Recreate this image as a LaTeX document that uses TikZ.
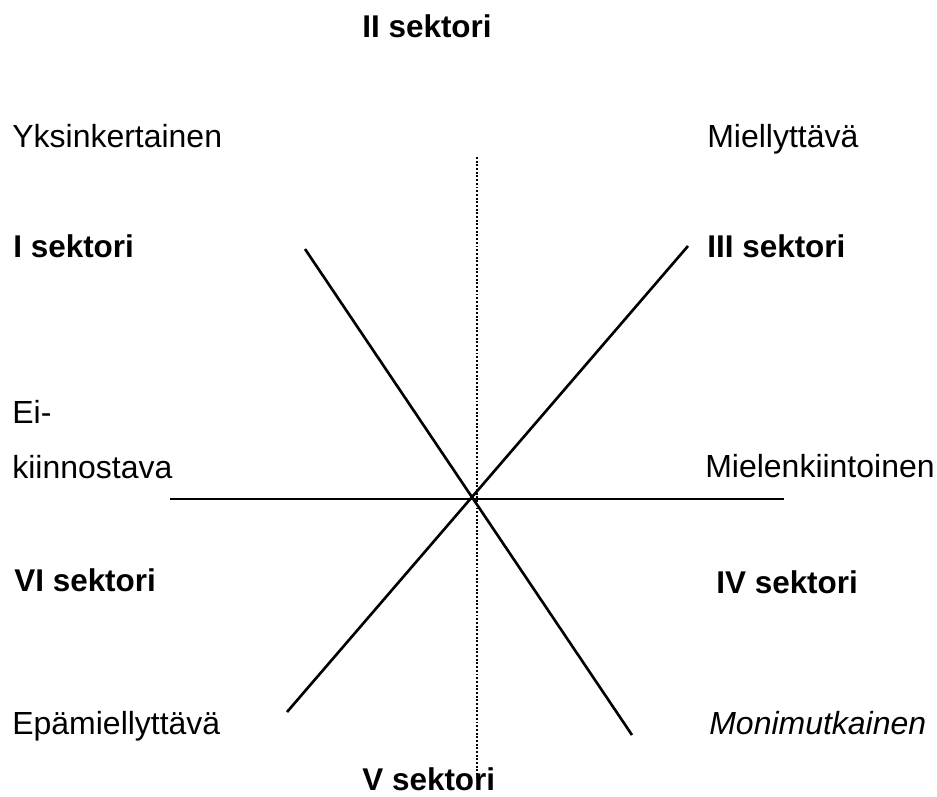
\documentclass[tikz,border=0pt]{standalone}
\usepackage{fontspec}
\setmainfont{Liberation Sans}
\usepackage{tikz}
\usetikzlibrary{positioning}
\tikzset{
  axis/.style={line width=1.5pt, black},
  midaxis/.style={line width=1.1pt, densely dotted, black},
  pole/.style={anchor=base west, inner sep=0pt, font=\fontsize{18.2}{22}\selectfont},
  sector/.style={pole, font=\fontsize{17.9}{22}\selectfont\bfseries}
}

\begin{document}
\begin{tikzpicture}[x=0.02cm, y=-0.02cm]
  \useasboundingbox (0,0) rectangle (937,796);

  % Axis end points
  \coordinate (hL) at (170,499);
  \coordinate (hR) at (784,499);
  \coordinate (vT) at (477,157);
  \coordinate (vB) at (477,778);
  \coordinate (aT) at (305,249);
  \coordinate (aB) at (632,735);
  \coordinate (bB) at (287,712);
  \coordinate (bT) at (688,246);

  % Axes
  \draw[axis] (hL) -- (hR);
  \draw[axis] (aT) -- (aB);
  \draw[axis] (bB) -- (bT);
  \draw[midaxis] (vT) -- (vB);

  % Sectors
  \node[sector] (s2) at (362,37) {II sektori};
  \node[sector] (s1) at (13,257) {I sektori};
  \node[sector] (s3) at (707,257) {III sektori};
  \node[sector] (s6) at (14,591) {VI sektori};
  \node[sector] (s4) at (716,593) {IV sektori};
  \node[sector] (s5) at (362,790) {V sektori};

  % Poles
  \node[pole] (yks) at (12,147) {Yksinkertainen};
  \node[pole] (mie) at (707,147) {Miellyttävä};
  \node[pole] (ei) at (12,423) {Ei-};
  \node[pole] (kii) at (12,478) {kiinnostava};
  \node[pole] (mik) at (705,477) {Mielenkiintoinen};
  \node[pole] (epa) at (12,734) {Epämiellyttävä};
  \node[pole, font=\fontsize{18.2}{22}\selectfont\itshape] (mon) at (709,734) {Monimutkainen};
\end{tikzpicture}
\end{document}
